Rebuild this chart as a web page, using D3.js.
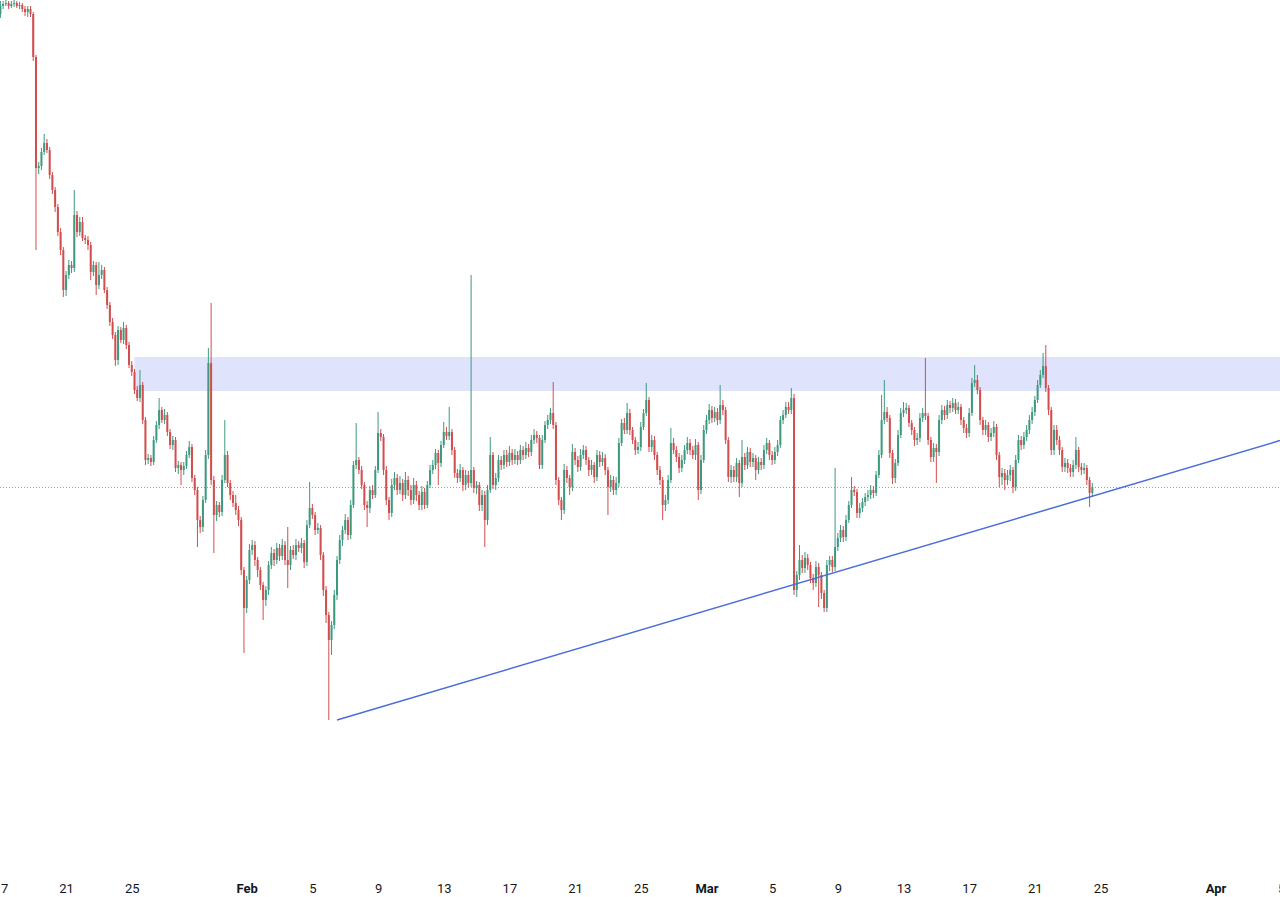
<!DOCTYPE html>
<html><head><meta charset="utf-8">
<script src="https://cdn.jsdelivr.net/npm/d3@7"></script>
<style>html,body{margin:0;padding:0;background:#fff;overflow:hidden}</style>
</head><body><svg id="chart" width="1280" height="897"></svg>
<script>
// ---- data (4h candles, prices in chart units) ----
const startTime = Date.UTC(2025, 0, 17, 0, 0);
const candleHours = 4;
const firstOpen = 986;
const closes = [
994,996,997,994,996,997,994,995,991,988,
991,986,943,832,834,848,857,850,825,810,
793,768,750,710,725,735,732,785,768,778,
762,760,755,728,735,715,725,730,710,695,
678,665,640,670,660,672,655,635,628,610,
602,615,580,540,542,538,560,575,590,580,
585,568,555,560,532,535,530,534,545,553,
522,510,480,473,500,545,637,520,485,495,
488,520,545,517,505,497,490,480,430,392,
420,450,455,440,430,415,400,410,435,447,
440,452,444,455,440,435,450,445,455,452,
457,438,475,492,485,470,472,445,410,385,
360,375,405,440,460,470,480,465,495,535,
540,530,515,495,492,510,505,530,567,563,
530,500,487,515,522,510,517,505,520,510,
500,515,505,495,508,495,515,530,535,547,
537,555,568,564,568,550,527,522,530,515,
525,517,530,512,515,495,505,480,510,545,
515,522,540,535,545,538,547,540,545,540,
550,545,552,548,560,565,562,535,560,575,
580,587,575,520,500,490,530,522,513,548,
540,533,545,550,540,530,535,523,545,538,
542,530,513,520,510,517,557,577,570,587,
570,560,550,553,573,587,600,553,560,545,
530,520,495,500,520,557,550,543,532,540,
550,557,550,545,555,510,540,570,580,590,
582,588,580,595,590,560,523,530,523,537,
517,543,535,548,538,542,530,538,535,550,
557,545,540,548,555,580,585,593,590,602,
410,425,440,432,442,435,422,417,433,425,
407,392,435,440,433,453,462,470,463,480,
495,510,508,487,492,498,503,505,510,507,
525,545,580,588,582,547,522,537,565,587,
590,592,577,570,560,562,582,587,584,560,
543,552,548,580,590,585,595,592,597,590,
593,580,572,567,587,617,620,610,580,570,
575,563,567,573,545,523,527,520,525,530,
513,540,560,555,563,570,580,588,600,615,
625,634,612,590,550,570,560,550,533,537,
532,528,535,550,533,530,532,520,507,513
];
const upperWicks = [
5,3,4,2,3,3,2,3,2,3, 3,3,2,2,4,4,9,4,3,3, 3,3,4,3,4,5,4,25,4,5, 5,3,4,3,4,3,13,5,3,3,
3,4,3,4,3,6,3,3,4,3, 4,15,3,3,4,3,4,4,12,3, 6,3,3,4,3,4,3,4,4,6, 3,3,3,4,4,5,15,60,4,4,
3,5,35,4,3,4,8,4,3,3, 4,6,5,4,3,3,3,4,4,6, 4,5,4,6,4,33,4,5,6,4, 5,3,5,26,4,3,5,3,3,4,
3,4,5,4,5,4,6,3,5,4, 37,3,4,3,4,4,5,4,21,4, 3,4,3,6,6,4,7,4,8,4, 5,7,4,4,6,4,4,5,5,4,
3,4,10,5,25,3,3,4,6,3, 5,4,195,3,4,3,5,4,5,18, 3,5,5,4,5,5,7,4,6,4, 5,4,6,4,5,6,4,3,5,4,
5,5,31,3,3,3,6,4,3,8, 4,4,6,5,4,3,5,3,5,4, 6,4,3,5,4,6,5,4,5,10, 4,3,3,5,5,4,17,3,5,4,
3,4,3,5,5,15,5,4,4,5, 5,6,4,4,6,3,5,5,5,6, 4,5,4,20,5,3,3,5,4,5, 3,17,4,5,4,5,3,5,4,5,
5,3,4,5,5,4,5,5,5,10, 4,4,15,5,6,4,3,4,6,4, 3,3,5,4,4,79,5,5,4,5, 4,13,4,3,5,4,4,5,5,4,
4,5,25,32,5,3,3,4,5,5, 8,5,3,3,3,5,5,5,55,3, 3,5,4,5,5,4,5,4,5,4, 5,3,3,4,5,5,15,5,3,3,
5,3,5,6,3,3,5,4,5,5, 3,5,5,4,5,5,5,5,4,5, 5,13,21,3,3,5,5,4,3,5, 4,4,5,13,3,4,5,3,3,4
];
const lowerWicks = [
4,3,2,3,2,3,2,3,3,4, 5,3,4,82,6,4,3,3,4,4, 5,4,5,7,6,4,5,4,5,4, 3,4,5,8,4,10,4,4,3,4,
4,4,6,5,3,4,4,3,4,4, 3,4,4,5,4,4,3,3,4,3, 4,4,4,5,4,6,15,5,3,3, 4,5,27,6,5,3,4,5,38,6,
5,4,3,4,5,4,5,6,5,45, 5,4,5,6,7,5,20,6,5,4, 6,4,5,4,5,23,5,4,5,4, 5,6,4,3,4,5,4,5,6,8,
80,15,4,5,4,6,4,5,4,3, 4,4,4,5,19,5,4,3,3,4, 5,5,7,4,5,5,4,6,4,6, 5,4,6,5,5,4,3,3,4,4,
22,4,3,4,4,5,5,5,4,6, 5,5,4,5,6,6,6,27,5,3, 4,5,4,5,4,5,4,5,4,5, 4,5,4,5,4,4,5,4,4,3,
4,4,4,5,5,10,4,5,8,4, 5,5,4,4,5,6,5,6,4,5, 4,5,28,5,5,5,4,3,4,4, 5,4,5,4,4,3,3,5,5,5,
5,5,15,6,4,3,4,5,5,4, 4,4,5,4,5,10,4,3,4,4, 5,4,5,4,5,4,5,6,5,5, 14,4,5,4,5,5,10,4,5,4,
4,5,5,4,4,3,4,3,4,4, 5,7,5,5,5,5,5,7,4,32, 6,4,4,6,5,4,4,4,5,4, 3,3,4,5,5,4,4,4,4,5,
3,3,3,4,4,5,6,5,3,3, 4,4,4,5,6,5,4,4,4,5, 5,5,31,4,4,5,4,5,4,4, 4,5,5,5,4,3,4,4,5,5,
5,5,4,4,5,10,8,10,5,6, 6,4,3,5,4,4,4,4,4,3, 3,3,4,5,5,5,5,5,5,5, 5,5,5,4,5,5,4,5,14,4
];
// resistance zone (price band) and rising support trendline anchors
const zoneStart = Date.UTC(2025, 0, 25, 4);
const zoneTop = 643, zoneBottom = 609;
const trendStart = {t: Date.UTC(2025, 1, 6, 12), price: 280};
const trendThrough = {t: Date.UTC(2025, 2, 24, 8), price: 503};
// axis ticks
const tickDates = ["2025-01-17","2025-01-21","2025-01-25","2025-02-01","2025-02-05","2025-02-09","2025-02-13","2025-02-17","2025-02-21","2025-02-25","2025-03-01","2025-03-05","2025-03-09","2025-03-13","2025-03-17","2025-03-21","2025-03-25","2025-04-01","2025-04-05"];
const tickLabels = ["17","21","25","Feb","5","9","13","17","21","25","Mar","5","9","13","17","21","25","Apr","5"];

// ---- build ----
const W = 1280, H = 897;
const candles = closes.map((c, i) => {
  const o = i === 0 ? firstOpen : closes[i - 1];
  return {t: new Date(startTime + i * candleHours * 3600e3), o, c,
          h: Math.max(o, c) + upperWicks[i], l: Math.min(o, c) - lowerWicks[i]};
});
const x = d3.scaleUtc().domain([new Date(Date.UTC(2025,0,17)), new Date(Date.UTC(2025,3,5))]).range([0.4, 0.4 + 78 * 16.42]);
const y = d3.scaleLinear().domain([103, 1000]).range([H, 0]);
const svg = d3.select("#chart");
const up = "#3d9a7f", down = "#d24d4d";

// zone
svg.append("rect").attr("x", x(new Date(zoneStart))).attr("y", y(zoneTop))
  .attr("width", W - x(new Date(zoneStart))).attr("height", y(zoneBottom) - y(zoneTop))
  .attr("fill", "#dfe3fb");

// last price dotted line
const last = candles[candles.length - 1];
svg.append("line").attr("x1", 0).attr("x2", W).attr("y1", Math.round(y(last.c)) + 0.5).attr("y2", Math.round(y(last.c)) + 0.5)
  .attr("stroke", "#8fa6a3").attr("stroke-width", 1).attr("stroke-dasharray", "1,2");

// candles
const g = svg.append("g");
g.selectAll("line.w").data(candles).join("line").attr("class", "w")
  .attr("x1", d => x(d.t)).attr("x2", d => x(d.t))
  .attr("y1", d => y(d.h)).attr("y2", d => y(d.l))
  .attr("stroke", d => d.c >= d.o ? up : down).attr("stroke-width", 1);
g.selectAll("rect.b").data(candles).join("rect").attr("class", "b")
  .attr("x", d => x(d.t) - 1).attr("width", 2)
  .attr("y", d => y(Math.max(d.o, d.c)))
  .attr("height", d => Math.max(1, Math.abs(y(d.o) - y(d.c))))
  .attr("fill", d => d.c >= d.o ? up : down);

// trendline extended to right edge
const slope = (trendThrough.price - trendStart.price) / (x(new Date(trendThrough.t)) - x(new Date(trendStart.t)));
const x0 = x(new Date(trendStart.t));
svg.append("line").attr("x1", x0).attr("y1", y(trendStart.price))
  .attr("x2", W).attr("y2", y(trendStart.price + slope * (W - x0)))
  .attr("stroke", "#4a6cdb").attr("stroke-width", 1.5);

// x axis
const axis = d3.axisBottom(x).tickValues(tickDates.map(s => new Date(s + "T00:00:00Z")))
  .tickFormat((d, i) => tickLabels[i]).tickSize(0).tickPadding(0);
const ax = svg.append("g").attr("transform", "translate(0,884)").call(axis);
ax.select(".domain").remove();
ax.selectAll("text").attr("font-family", "Roboto, sans-serif").attr("font-size", 13)
  .attr("fill", "#131722").attr("dy", "0.71em")
  .attr("font-weight", (d, i) => /[A-Za-z]/.test(tickLabels[i]) ? "bold" : "normal");
</script></body></html>
